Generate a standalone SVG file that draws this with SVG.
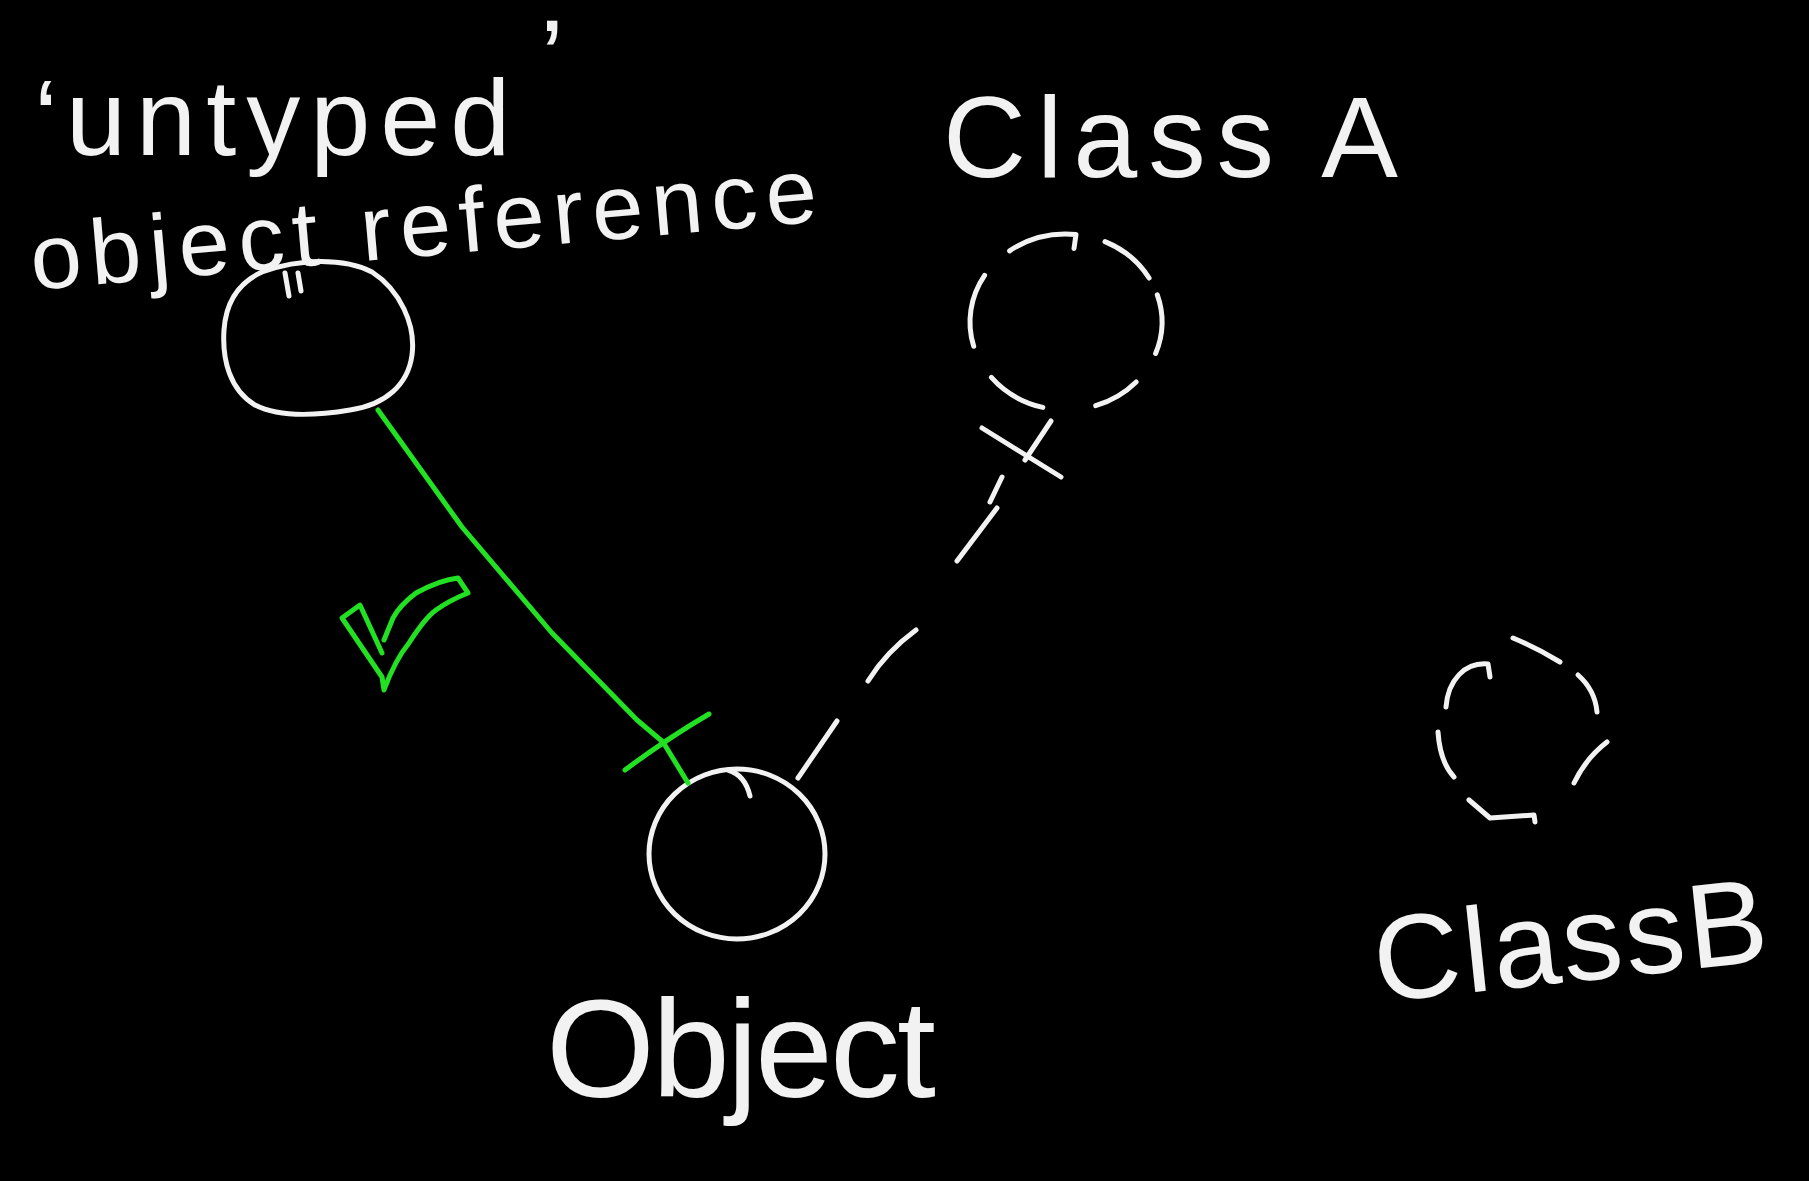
<svg xmlns="http://www.w3.org/2000/svg" width="1809" height="1181" viewBox="0 0 1809 1181">
  <style>
    .chalk { fill: none; stroke: #f2f2f2; stroke-width: 5; stroke-linecap: round; stroke-linejoin: round; }
    .green { fill: none; stroke: #22e022; stroke-width: 5; stroke-linecap: round; stroke-linejoin: round; }
    .label { fill: #f2f2f2; font-family: "Liberation Sans", "DejaVu Sans", sans-serif; }
  </style>
  <rect x="0" y="0" width="1809" height="1181" fill="#000"/>

  <g id="node-untyped-reference">
    <path class="chalk" d="M262,272 C300,258 345,258 372,272 C400,290 416,325 412,355 C408,385 385,405 350,410 C320,415 280,418 255,405 C230,390 222,360 224,330 C226,300 240,282 262,272 Z"/>
    <path class="chalk" d="M285,273 L289,296 M298,273 L301,291"/>
    <text class="label" font-size="108" y="155"><tspan x="34">‘</tspan><tspan x="66" letter-spacing="10">untyped</tspan><tspan x="540" y="95">’</tspan></text>
    <text class="label" font-size="92" x="33" y="290" transform="rotate(-5 33 290)" textLength="789" lengthAdjust="spacing">object reference</text>
  </g>

  <g id="node-object">
    <ellipse class="chalk" cx="737" cy="854" rx="88" ry="85"/>
    <path class="chalk" d="M728,770 Q745,775 750,796"/>
    <text class="label" font-size="140" x="546" y="1097" textLength="390" lengthAdjust="spacing">Object</text>
  </g>

  <g id="node-class-a">
    <path class="chalk" d="M1009.6,250.8 A96,88 0 0 1 1076,234.5 l-2,14"/>
    <path class="chalk" d="M1105,241.6 A96,88 0 0 1 1149.1,278"/>
    <path class="chalk" d="M973.7,346.3 A96,88 0 0 1 984.6,275.4"/>
    <path class="chalk" d="M1157.3,294.8 A96,88 0 0 1 1155.6,353.5"/>
    <path class="chalk" d="M1042.8,407.4 A96,88 0 0 1 991.4,377.4"/>
    <path class="chalk" d="M1136.2,382 A96,88 0 0 1 1095.7,405.7"/>
    <text class="label" font-size="115" x="943" y="177" textLength="455" lengthAdjust="spacing">Class A</text>
  </g>

  <g id="node-class-b">
    <path class="chalk" d="M1446,707 C1448,680 1465,662 1488,664 L1490,677"/>
    <path class="chalk" d="M1513,638 Q1537,648 1560,662"/>
    <path class="chalk" d="M1578,675 Q1595,690 1597,712"/>
    <path class="chalk" d="M1438,732 Q1440,762 1454,777"/>
    <path class="chalk" d="M1607,742 Q1586,758 1574,783"/>
    <path class="chalk" d="M1469,800 L1490,818 L1534,815 L1535,822"/>
    <text class="label" font-size="120" x="1378" y="1002" transform="rotate(-6 1378 1002)" textLength="395" lengthAdjust="spacing">ClassB</text>
  </g>

  <g id="connectors">
    <path class="green" d="M378,410 L462,527 L552,633 L637,720 L663,742 L688,783"/>
    <path class="green" d="M625,770 Q665,740 709,714"/>
    <path class="chalk" d="M798,778 L837,721"/>
    <path class="chalk" d="M868,681 Q886,652 916,630"/>
    <path class="chalk" d="M957,561 L997,508"/>
    <path class="chalk" d="M990,502 L1002,477"/>
    <path class="chalk" d="M982,428 L1061,477 M1051,421 L1025,460"/>
  </g>

  <g id="check-mark">
    <path class="green" d="M382,653 L360,605 L342,618 L382,677 L384,690 Q395,660 409,643 Q425,618 436,610 Q450,600 468,593 L458,578 Q440,580 416,593 Q400,605 393,618 L384,640"/>
  </g>
</svg>
